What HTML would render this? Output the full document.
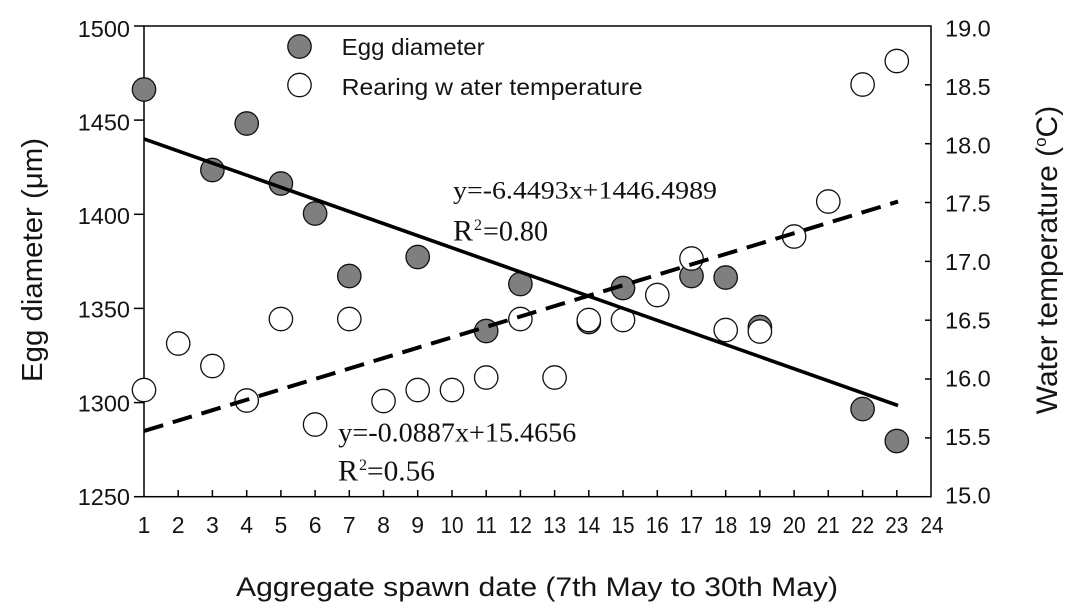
<!DOCTYPE html>
<html>
<head>
<meta charset="utf-8">
<style>
html,body{margin:0;padding:0;background:#fff;}
svg{display:block;}
.a{font-family:"Liberation Sans",Arial,sans-serif;fill:#141414;}
.t{font-family:"Liberation Serif","Times New Roman",serif;fill:#111;}
</style>
</head>
<body>
<svg width="1070" height="614" viewBox="0 0 1070 614" xmlns="http://www.w3.org/2000/svg">
<rect x="0" y="0" width="1070" height="614" fill="#fff"/>

<!-- frame -->
<rect x="144" y="26" width="787" height="470.7" fill="none" stroke="#000" stroke-width="1.5"/>

<!-- left ticks (outward) -->
<g stroke="#000" stroke-width="1.5">
<line x1="134" y1="26" x2="144" y2="26"/>
<line x1="134" y1="120.1" x2="144" y2="120.1"/>
<line x1="134" y1="214.3" x2="144" y2="214.3"/>
<line x1="134" y1="308.4" x2="144" y2="308.4"/>
<line x1="134" y1="402.6" x2="144" y2="402.6"/>
<line x1="134" y1="496.7" x2="144" y2="496.7"/>
</g>
<!-- right ticks (inward) -->
<g stroke="#000" stroke-width="1.5">
<line x1="925" y1="84.8" x2="931" y2="84.8"/>
<line x1="925" y1="143.7" x2="931" y2="143.7"/>
<line x1="925" y1="202.5" x2="931" y2="202.5"/>
<line x1="925" y1="261.4" x2="931" y2="261.4"/>
<line x1="925" y1="320.2" x2="931" y2="320.2"/>
<line x1="925" y1="379.0" x2="931" y2="379.0"/>
<line x1="925" y1="437.9" x2="931" y2="437.9"/>
</g>
<!-- bottom ticks (inward) -->
<g stroke="#000" stroke-width="1.5">
<line x1="178.2" y1="490" x2="178.2" y2="496.7"/>
<line x1="212.4" y1="490" x2="212.4" y2="496.7"/>
<line x1="246.7" y1="490" x2="246.7" y2="496.7"/>
<line x1="280.9" y1="490" x2="280.9" y2="496.7"/>
<line x1="315.1" y1="490" x2="315.1" y2="496.7"/>
<line x1="349.3" y1="490" x2="349.3" y2="496.7"/>
<line x1="383.5" y1="490" x2="383.5" y2="496.7"/>
<line x1="417.7" y1="490" x2="417.7" y2="496.7"/>
<line x1="452.0" y1="490" x2="452.0" y2="496.7"/>
<line x1="486.2" y1="490" x2="486.2" y2="496.7"/>
<line x1="520.4" y1="490" x2="520.4" y2="496.7"/>
<line x1="554.6" y1="490" x2="554.6" y2="496.7"/>
<line x1="588.8" y1="490" x2="588.8" y2="496.7"/>
<line x1="623.0" y1="490" x2="623.0" y2="496.7"/>
<line x1="657.3" y1="490" x2="657.3" y2="496.7"/>
<line x1="691.5" y1="490" x2="691.5" y2="496.7"/>
<line x1="725.7" y1="490" x2="725.7" y2="496.7"/>
<line x1="759.9" y1="490" x2="759.9" y2="496.7"/>
<line x1="794.1" y1="490" x2="794.1" y2="496.7"/>
<line x1="828.3" y1="490" x2="828.3" y2="496.7"/>
<line x1="862.6" y1="490" x2="862.6" y2="496.7"/>
<line x1="896.8" y1="490" x2="896.8" y2="496.7"/>
</g>

<!-- left tick labels -->
<g class="a" font-size="23.5" text-anchor="end">
<text x="130" y="37">1500</text>
<text x="130" y="130.5">1450</text>
<text x="130" y="224">1400</text>
<text x="130" y="317.5">1350</text>
<text x="130" y="411.5">1300</text>
<text x="130" y="505">1250</text>
</g>
<!-- right tick labels -->
<g class="a" font-size="23.5">
<text x="945" y="36.6">19.0</text>
<text x="945" y="95">18.5</text>
<text x="945" y="153.3">18.0</text>
<text x="945" y="211.6">17.5</text>
<text x="945" y="270">17.0</text>
<text x="945" y="328.3">16.5</text>
<text x="945" y="386.6">16.0</text>
<text x="945" y="445">15.5</text>
<text x="945" y="503.3">15.0</text>
</g>
<!-- x tick labels -->
<g class="a" font-size="23" text-anchor="middle">
<text x="144" y="533">1</text>
<text x="178.2" y="533">2</text>
<text x="212.4" y="533">3</text>
<text x="246.7" y="533">4</text>
<text x="280.9" y="533">5</text>
<text x="315.1" y="533">6</text>
<text x="349.3" y="533">7</text>
<text x="383.5" y="533">8</text>
<text x="417.7" y="533">9</text>
<text transform="translate(452,533) scale(0.9,1)">10</text>
<text transform="translate(486.2,533) scale(0.9,1)">11</text>
<text transform="translate(520.4,533) scale(0.9,1)">12</text>
<text transform="translate(554.6,533) scale(0.9,1)">13</text>
<text transform="translate(588.8,533) scale(0.9,1)">14</text>
<text transform="translate(623,533) scale(0.9,1)">15</text>
<text transform="translate(657.3,533) scale(0.9,1)">16</text>
<text transform="translate(691.5,533) scale(0.9,1)">17</text>
<text transform="translate(725.7,533) scale(0.9,1)">18</text>
<text transform="translate(759.9,533) scale(0.9,1)">19</text>
<text transform="translate(794.1,533) scale(0.9,1)">20</text>
<text transform="translate(828.3,533) scale(0.9,1)">21</text>
<text transform="translate(862.6,533) scale(0.9,1)">22</text>
<text transform="translate(896.8,533) scale(0.9,1)">23</text>
<text transform="translate(932,533) scale(0.9,1)">24</text>
</g>

<!-- axis titles -->
<text class="a" x="236" y="596" font-size="27" textLength="602" lengthAdjust="spacingAndGlyphs">Aggregate spawn date (7th May to 30th May)</text>
<text class="a" font-size="29" text-anchor="middle" transform="translate(42,260) rotate(-90)" textLength="244" lengthAdjust="spacingAndGlyphs">Egg diameter (μm)</text>
<text class="a" font-size="30" text-anchor="middle" transform="translate(1057,260) rotate(-90)">Water temperature (<tspan font-size="17" dy="-11">o</tspan><tspan dy="11">C)</tspan></text>

<!-- filled points: egg diameter -->
<g fill="#7f7f7f" stroke="#111" stroke-width="1.3">
<circle cx="144" cy="89.5" r="11.7"/>
<circle cx="212.4" cy="170" r="11.7"/>
<circle cx="246.7" cy="123.5" r="11.7"/>
<circle cx="280.9" cy="183.5" r="11.7"/>
<circle cx="315.1" cy="213.5" r="11.7"/>
<circle cx="349.3" cy="276" r="11.7"/>
<circle cx="417.7" cy="257" r="11.7"/>
<circle cx="486.2" cy="331" r="11.7"/>
<circle cx="520.4" cy="284" r="11.7"/>
<circle cx="588.8" cy="322" r="11.7"/>
<circle cx="623.0" cy="288" r="11.7"/>
<circle cx="691.5" cy="276" r="11.7"/>
<circle cx="725.7" cy="277.5" r="11.7"/>
<circle cx="759.9" cy="327" r="11.7"/>
<circle cx="862.6" cy="409" r="11.7"/>
<circle cx="896.8" cy="441" r="11.7"/>
</g>
<!-- open points: water temperature -->
<g fill="#fff" stroke="#111" stroke-width="1.3">
<circle cx="144" cy="390" r="11.7"/>
<circle cx="178.2" cy="343.5" r="11.7"/>
<circle cx="212.4" cy="366" r="11.7"/>
<circle cx="246.7" cy="400.5" r="11.7"/>
<circle cx="280.9" cy="319" r="11.7"/>
<circle cx="315.1" cy="424.5" r="11.7"/>
<circle cx="349.3" cy="319" r="11.7"/>
<circle cx="383.5" cy="401" r="11.7"/>
<circle cx="417.7" cy="390" r="11.7"/>
<circle cx="452.0" cy="390" r="11.7"/>
<circle cx="486.2" cy="377.5" r="11.7"/>
<circle cx="520.4" cy="319" r="11.7"/>
<circle cx="554.6" cy="377.5" r="11.7"/>
<circle cx="588.8" cy="320" r="11.7"/>
<circle cx="623.0" cy="320" r="11.7"/>
<circle cx="657.3" cy="295" r="11.7"/>
<circle cx="691.5" cy="258.5" r="11.7"/>
<circle cx="725.7" cy="330" r="11.7"/>
<circle cx="759.9" cy="331.5" r="11.7"/>
<circle cx="794.1" cy="236.5" r="11.7"/>
<circle cx="828.3" cy="201.5" r="11.7"/>
<circle cx="862.6" cy="84.5" r="11.7"/>
<circle cx="896.8" cy="61" r="11.7"/>
</g>

<!-- regression lines -->
<line x1="144" y1="138.9" x2="898" y2="405.5" stroke="#000" stroke-width="3.6"/>
<line x1="144" y1="431" x2="898" y2="201.6" stroke="#000" stroke-width="4" stroke-dasharray="20 10"/>

<!-- legend -->
<circle cx="299.5" cy="46.5" r="11.7" fill="#7f7f7f" stroke="#111" stroke-width="1.3"/>
<circle cx="299.5" cy="85" r="11.7" fill="#fff" stroke="#111" stroke-width="1.3"/>
<text class="a" x="341.7" y="55" font-size="23.5" textLength="143" lengthAdjust="spacingAndGlyphs">Egg diameter</text>
<text class="a" x="341.7" y="95" font-size="23.5" textLength="301" lengthAdjust="spacingAndGlyphs">Rearing w ater temperature</text>

<!-- equations -->
<text class="t" x="453" y="198.3" font-size="25" textLength="264" lengthAdjust="spacingAndGlyphs">y=-6.4493x+1446.4989</text>
<text class="t" x="453" y="240.5" font-size="30">R</text>
<text class="t" x="474" y="230" font-size="16">2</text>
<text class="t" x="483" y="240.5" font-size="28" textLength="65" lengthAdjust="spacingAndGlyphs">=0.80</text>

<text class="t" x="338.3" y="441.7" font-size="27" textLength="238" lengthAdjust="spacingAndGlyphs">y=-0.0887x+15.4656</text>
<text class="t" x="338" y="480.5" font-size="30">R</text>
<text class="t" x="359" y="470" font-size="16">2</text>
<text class="t" x="367" y="480.5" font-size="28" textLength="68" lengthAdjust="spacingAndGlyphs">=0.56</text>
</svg>
</body>
</html>
